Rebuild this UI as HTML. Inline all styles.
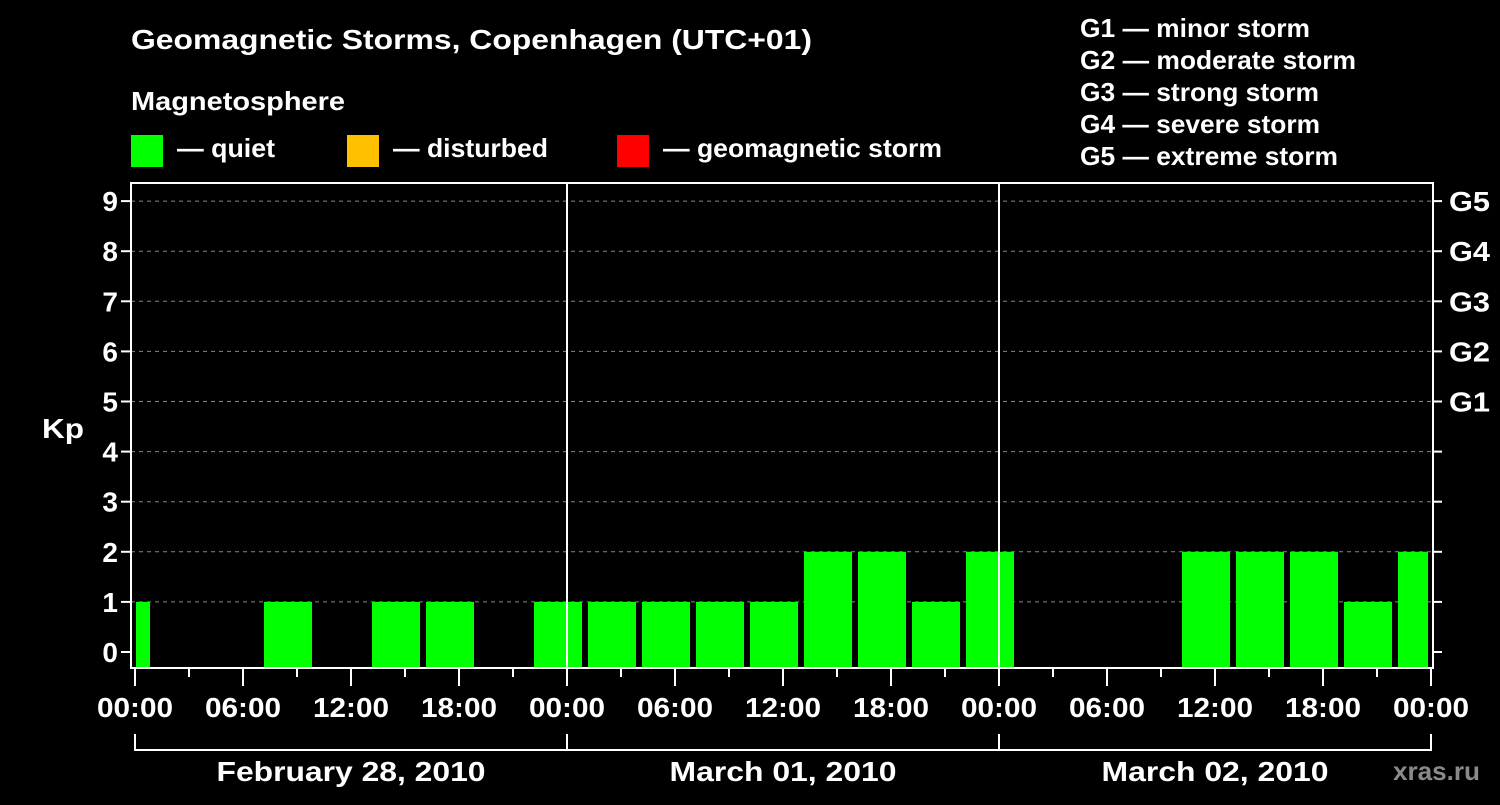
<!DOCTYPE html>
<html><head><meta charset="utf-8"><style>
body{margin:0;background:#000;width:1500px;height:800px;overflow:hidden}
svg text{font-family:"Liberation Sans",sans-serif;font-weight:bold;fill:#fff}
</style></head><body>
<svg id="c" width="1500" height="800">
<text x="131" y="49" font-size="28" textLength="681" lengthAdjust="spacingAndGlyphs">Geomagnetic Storms, Copenhagen (UTC+01)</text>
<text x="131" y="110" font-size="26" textLength="214" lengthAdjust="spacingAndGlyphs">Magnetosphere</text>
<rect x="131" y="135" width="32" height="32" fill="#00ff00"/>
<text x="177" y="157" font-size="26" textLength="98" lengthAdjust="spacingAndGlyphs">— quiet</text>
<rect x="347" y="135" width="32" height="32" fill="#ffc000"/>
<text x="393" y="157" font-size="26" textLength="155" lengthAdjust="spacingAndGlyphs">— disturbed</text>
<rect x="617" y="135" width="32" height="32" fill="#ff0000"/>
<text x="663" y="157" font-size="26" textLength="279" lengthAdjust="spacingAndGlyphs">— geomagnetic storm</text>
<g font-size="26">
<text x="1080" y="37" textLength="230" lengthAdjust="spacingAndGlyphs">G1 — minor storm</text>
<text x="1080" y="69" textLength="276" lengthAdjust="spacingAndGlyphs">G2 — moderate storm</text>
<text x="1080" y="101" textLength="239" lengthAdjust="spacingAndGlyphs">G3 — strong storm</text>
<text x="1080" y="133" textLength="240" lengthAdjust="spacingAndGlyphs">G4 — severe storm</text>
<text x="1080" y="165" textLength="258" lengthAdjust="spacingAndGlyphs">G5 — extreme storm</text>
</g>
<text x="42" y="438" font-size="28" textLength="42" lengthAdjust="spacingAndGlyphs">Kp</text>
<text x="1393" y="780" font-size="26" textLength="87" lengthAdjust="spacingAndGlyphs" style="fill:#8a8a8a">xras.ru</text>
<g id="g"></g>
</svg>
<script>
const kpValues=[1,0,0,1,0,1,1,0,1, 1,1,1,1,2,2,1,2, 0,0,0,2,2,2,1,2];
const binStartHours=[-2,1,4,7,10,13,16,19,22, 25,28,31,34,37,40,43,46, 49,52,55,58,61,64,67,70];
const yTicks=[0,1,2,3,4,5,6,7,8,9];
const gLabels=["G1","G2","G3","G4","G5"];
const gLevels=[5,6,7,8,9];
const xTickLabels=["00:00","06:00","12:00","18:00","00:00","06:00","12:00","18:00","00:00","06:00","12:00","18:00","00:00"];
const dayLabels=["February 28, 2010","March 01, 2010","March 02, 2010"];
const dayLabelWidths=[269,227,227];
const L=131,R=1433,T=183,B=668,X0=135,PH=18;
const x=h=>X0+h*PH, y=v=>652-v*50.1;
const ns="http://www.w3.org/2000/svg",g=document.getElementById('g');
function el(t,a,txt){const e=document.createElementNS(ns,t);for(const k in a)e.setAttribute(k,a[k]);if(txt!=null)e.textContent=txt;g.appendChild(e);return e;}
yTicks.forEach(v=>{
 if(v>0){const l=el('line',{x1:L,x2:R,y1:y(v),y2:y(v),stroke:'#888','stroke-dasharray':'4,4','stroke-width':1});
 
 }
 const t=el('line',{x1:L-10,x2:L,y1:y(v),y2:y(v),stroke:'#fff','stroke-width':2});
 
 
 const r=el('line',{x1:R,x2:R+9,y1:y(v),y2:y(v),stroke:'#fff','stroke-width':2});
 
 
 const lb=el('text',{x:L-13,y:y(v)+10,'font-size':28,'text-anchor':'end'},String(v));
 
 
});
gLabels.forEach((s,i)=>{
 const t=el('text',{x:1449,y:y(gLevels[i])+10,'font-size':28,textLength:41,lengthAdjust:'spacingAndGlyphs'},s);
 
 
});
kpValues.forEach((v,i)=>{
 if(v<=0)return;
 let a=Math.max(x(binStartHours[i])+3,L+5),b=Math.min(x(binStartHours[i]+3)-3,R-5);
 const r=el('rect',{x:a,y:y(v),width:b-a,height:B-1-y(v),fill:'#00ff00'});
 
 
});
[1,2].forEach(d=>{const l=el('line',{x1:x(24*d),x2:x(24*d),y1:T,y2:B,stroke:'#fff','stroke-width':2});
 
 });
const f=el('rect',{x:L,y:T,width:R-L,height:B-T,fill:'none',stroke:'#fff','stroke-width':2});


for(let h=0;h<=72;h+=3){
 const maj=h%6==0;
 const t=el('line',{x1:x(h),x2:x(h),y1:B,y2:B+(maj?18:9),stroke:'#fff','stroke-width':2});
 
 
}
xTickLabels.forEach((s,i)=>{
 const t=el('text',{x:x(i*6)-38,y:717,'font-size':28,textLength:76,lengthAdjust:'spacingAndGlyphs'},s);
 
 
});
const br=el('path',{d:`M${x(0)},734V750H${x(72)}V734M${x(24)},734V750M${x(48)},734V750`,stroke:'#fff','stroke-width':2,fill:'none'});


dayLabels.forEach((s,i)=>{
 const t=el('text',{x:x(24*i+12)-dayLabelWidths[i]/2,y:781,'font-size':28,textLength:dayLabelWidths[i],lengthAdjust:'spacingAndGlyphs'},s);
 
 
});
</script>
</body></html>
